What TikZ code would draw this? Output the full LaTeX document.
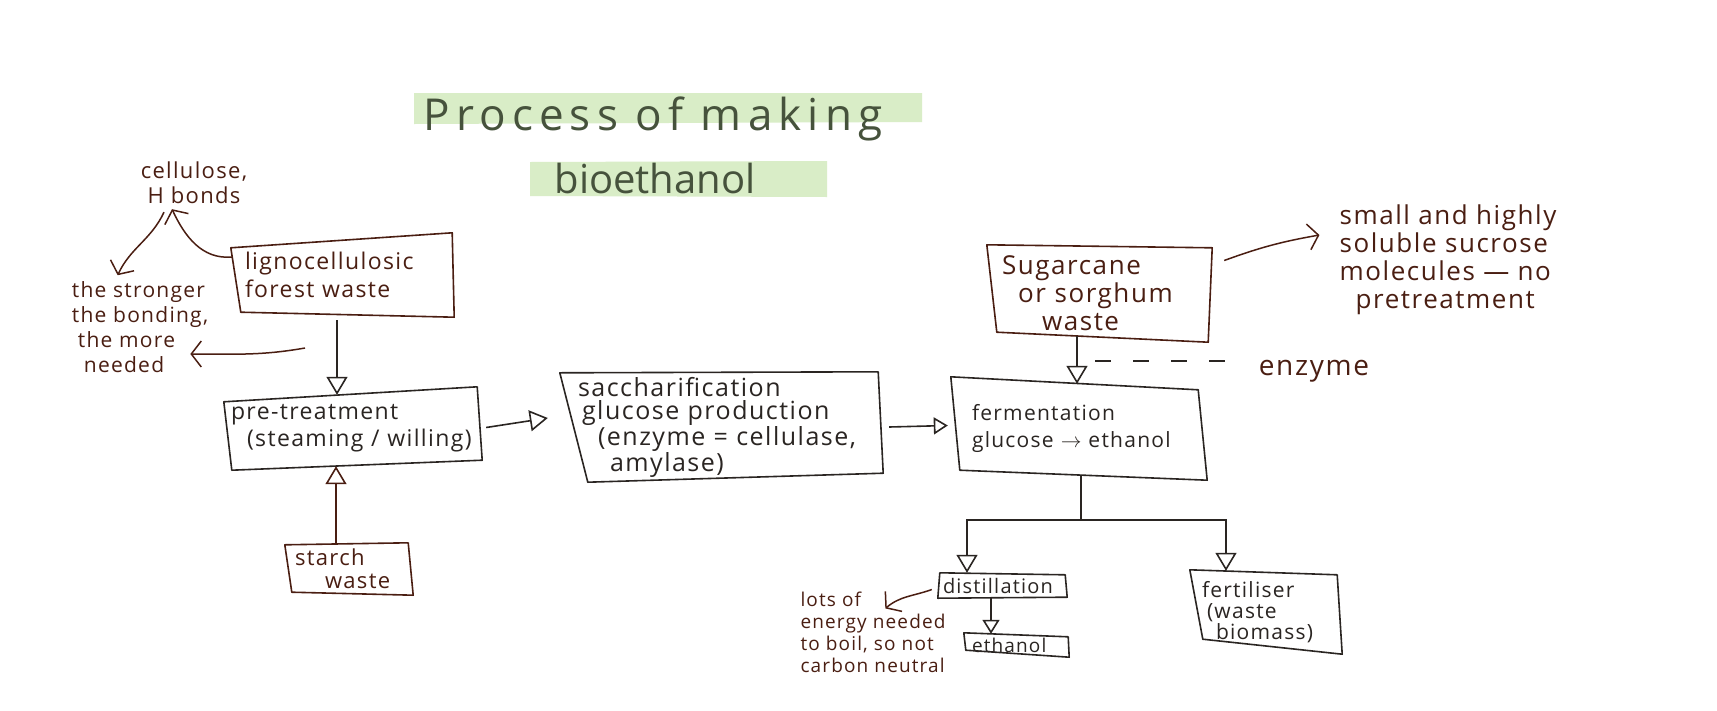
\documentclass[tikz,border=0pt]{standalone}
\usepackage{fontspec}
\setmainfont{Open Sans}
\usetikzlibrary{arrows.meta,calc}
\definecolor{ink}{HTML}{2A2522}
\definecolor{brn}{HTML}{4A1E12}
\definecolor{hl}{HTML}{D9EDC7}
\definecolor{ttl}{HTML}{46523C}
\newfontfamily\ttlfont[LetterSpace=14]{Open Sans}
\newfontfamily\hand[LetterSpace=6]{Open Sans}
\newcommand{\fs}[2]{\hand\fontsize{#1}{#2}\selectfont}
\newcommand{\ind}[1]{\hspace*{#1pt}}
% hand-drawn quadrilateral around a node: corner offsets NW, NE, SE, SW
\newcommand{\qb}[6]{\draw[#2,line width=1.6pt,line join=round]
  ($(#1.north west)+(#3)$) -- ($(#1.north east)+(#4)$) --
  ($(#1.south east)+(#5)$) -- ($(#1.south west)+(#6)$) -- cycle;}
\tikzset{
  every node/.style={inner sep=0pt},
  boxk/.style={text=ink,align=left},
  boxb/.style={text=brn,align=left},
  note/.style={text=brn,align=left},
  op/.style={line width=1.6pt,-{Triangle[open,length=18pt,width=21pt,line width=1.6pt]}},
  opsm/.style={line width=1.6pt,-{Triangle[open,length=14pt,width=17pt,line width=1.6pt]}},
  barb/.style={line width=1.5pt,draw=brn,-{Straight Barb[length=10pt,width=26pt,line width=1.5pt]}},
}
\begin{document}
\begin{tikzpicture}[x=1pt,y=-1pt]
\useasboundingbox[fill=white] (0,0) rectangle (1717,710);
% title highlights
\fill[hl] (414,93) -- (922,93) -- (922,122) -- (414,124) -- cycle;
\fill[hl] (530,162) -- (827,161) -- (827,197) -- (530,196) -- cycle;
\node[text=ttl,font=\ttlfont\fontsize{44}{50}\selectfont] (t1) at (653,119) {Process of making};
\node[text=ttl,font=\fontsize{40}{46}\selectfont] (t2) at (655,178) {bioethanol};
% notes
\node[note,align=center,font=\fs{22}{25}] (cell) at (194,183) {cellulose,\\H bonds};
\node[note,font=\fs{21}{25}] (strong) at (140,327) {the stronger\\the bonding,\\\ind{6}the more\\\ind{12}needed};
% boxes (node = bounding box of the hand-drawn frame)
\node[boxb,minimum width=223pt,minimum height=84pt,text width=195pt,inner xsep=14pt,font=\fs{23}{28}] (ligno) at (342.5,275) {lignocellulosic\\forest waste};
\node[boxk,minimum width=258pt,minimum height=83pt,text width=244pt,inner xsep=7pt,font=\fs{23}{27}] (pre) at (353,428.5) {pre-treatment\\\ind{16}(steaming / willing)};
\node[boxk,minimum width=323pt,minimum height=110pt,text width=287pt,inner xsep=18pt,font=\fs{25}{23}] (sacch) at (721.5,427) {saccharification\\\ind{4}glucose production\\\ind{20}(enzyme = cellulase,\\\ind{32}amylase)\\[-8pt]};
\node[boxk,minimum width=256pt,minimum height=103pt,text width=214pt,inner xsep=21pt,font=\fs{21}{27}] (ferm) at (1079,428.5) {fermentation\\glucose $\rightarrow$ ethanol\\[16pt]};
\node[boxb,minimum width=225pt,minimum height=97pt,text width=195pt,inner xsep=15pt,font=\fs{26}{28}] (sugar) at (1099.5,293.5) {Sugarcane\\\ind{16}or sorghum\\\ind{40}waste};
\node[boxb,minimum width=128pt,minimum height=52pt,text width=108pt,inner xsep=10pt,font=\fs{22}{23}] (starch) at (349,569) {starch\\\ind{30}waste};
\node[boxk,minimum width=129pt,minimum height=25pt,text width=119pt,inner xsep=5pt,font=\fs{20}{24}] (dist) at (1002.5,585.5) {distillation};
\node[boxk,minimum width=103pt,minimum height=24pt,text width=89pt,inner xsep=8pt,font=\fs{19}{24}] (eth) at (1016.5,645) {\raisebox{-2pt}{ethanol}};
\node[boxk,minimum width=152pt,minimum height=84pt,text width=128pt,inner xsep=12pt,font=\fs{21}{21}] (fert) at (1266,612) {fertiliser\\\ind{5}(waste\\\ind{14}biomass)};
\qb{ligno}{brn}{0,15}{-2,0}{0,0}{10,-5}
\qb{pre}{ink}{0,15}{-5,0}{0,-10}{8,0}
\qb{sacch}{ink}{0,1}{-5,0}{0,-9}{28,0}
\qb{ferm}{ink}{0,0}{-9,13}{0,0}{9,-10}
\qb{sugar}{brn}{0,0}{0,3}{-4,0}{10,-10}
\qb{starch}{brn}{0,2}{-5,0}{0,0}{7,-3}
\qb{dist}{ink}{2,0}{-2,2}{0,-1}{0,0}
\qb{eth}{ink}{0,0}{-1,4}{0,0}{2,-7}
\qb{fert}{ink}{0,0}{-5,5}{0,0}{13,-15}
% more notes
\node[note,font=\fs{26}{28}] (small) at (1448,260) {small and highly\\soluble sucrose\\molecules — no\\\ind{16}pretreatment};
\node[note,font=\fs{28}{30}] (enz) at (1314,371) {enzyme};
\node[note,font=\fs{19}{22}] (lots) at (873,632) {lots of\\energy needed\\to boil, so not\\carbon neutral};
% connectors
\coordinate (lk) at (305,348);
\coordinate (ez) at (1095,361);
\draw[barb] ($(ligno.west)+(1,-18)$) to[out=185,in=-65] ($(cell.south)+(-22,5)$);
\draw[barb] ($(cell.south)+(-30,8)$) to[out=-115,in=65] ($(strong.north west)+(46,-6)$);
\draw[barb] (lk) to[out=190,in=0] ($(strong.east)+(-18,27)$);
\draw[op,draw=ink] ($(ligno.south -| 337,0)+(0,3)$) -- ($(pre.north -| 337,0)+(0,8)$);
\draw[op,draw=brn] ($(starch.north -| 336,0)+(0,1)$) -- ($(pre.south -| 336,0)+(0,-4)$);
\draw[op,draw=ink] ($(pre.east)+(4,-1)$) -- ($(sacch.west)+(-12,-9)$);
\draw[opsm,draw=ink] ($(sacch.east)+(6,0)$) -- ($(ferm.west)+(-3,-3)$);
\draw[op,draw=ink] ($(sugar.south -| 1077,0)+(0,-6)$) -- ($(ferm.north -| 1077,0)+(0,7)$);
\draw[line width=1.4pt,draw=ink,dash pattern=on 16pt off 22pt] (ez) -- ($(enz.west)+(-20,-10)$);
\draw[barb] ($(sugar.east)+(12,-33)$) to[out=20,in=190] ($(small.west)+(-20,-25)$);
\draw[op,draw=ink] ($(ferm.south -| 1081,0)+(0,-5)$) -- (1081,520) -| (dist.north -| 967,0);
\draw[op,draw=ink] (1081,520) -| ($(fert.north -| 1226,0)+(0,1)$);
\draw[opsm,draw=ink] (dist.south -| 991,0) -- ($(eth.north -| 991,0)+(0,1)$);
\draw[barb] ($(dist.west)+(-6,4)$) to[out=200,in=40] ($(lots.north west)+(85,17)$);
\end{tikzpicture}
\end{document}
